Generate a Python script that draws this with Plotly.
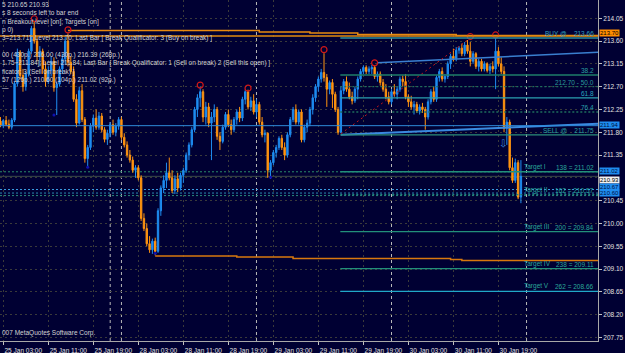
import plotly.graph_objects as go

# ---------------- data ----------------
bar_index = list(range(-1, 185))
opens = [212.02,211.94,212.03,211.96,211.90,212.04,212.76,213.38,212.92,212.70,212.95,213.40,213.85,213.60,213.30,213.40,213.05,212.80,213.02,213.20,212.68,212.75,213.05,213.25,213.60,213.18,213.00,212.45,211.98,212.62,212.05,211.28,211.50,211.92,212.08,211.90,212.12,211.85,211.66,211.78,211.95,211.80,211.92,212.05,211.70,211.55,211.35,211.25,211.05,211.10,210.90,210.10,209.90,209.60,209.48,209.65,209.45,210.25,210.70,210.85,211.00,210.90,210.65,210.88,210.70,210.95,211.05,211.35,211.55,211.85,212.25,212.48,212.60,212.10,212.30,211.98,212.10,212.25,211.72,211.62,211.90,212.15,211.95,211.85,212.05,212.20,212.08,212.45,212.60,212.30,212.42,212.20,212.35,212.00,211.75,211.78,211.05,211.20,211.40,211.50,211.68,211.50,211.35,211.75,212.05,212.25,212.00,212.20,211.65,211.90,211.98,212.25,212.48,212.70,212.85,212.98,212.88,212.65,212.78,212.55,212.25,211.80,212.62,212.80,212.65,212.50,212.42,212.65,212.85,213.00,213.08,213.00,213.05,213.08,212.90,212.95,212.78,212.65,212.50,212.40,212.60,212.55,212.65,212.85,212.80,212.50,212.40,212.30,212.35,212.22,212.30,212.25,212.10,212.40,212.60,212.45,212.88,213.00,212.85,212.90,213.15,213.30,213.25,213.42,213.46,213.35,213.52,213.40,213.20,213.35,213.10,213.20,213.05,213.15,213.02,213.10,213.05,213.40,213.15,213.00,211.88,212.00,211.10,210.85,211.20,210.52]
highs = [212.10,212.06,212.12,212.05,212.08,212.80,213.45,213.42,213.05,213.00,213.45,213.90,214.00,213.70,213.50,213.45,213.20,213.10,213.30,213.28,212.80,213.10,213.35,213.70,213.75,213.30,213.10,212.55,212.70,212.75,212.10,211.55,211.98,212.15,212.25,212.20,212.18,211.90,211.85,212.00,212.05,211.98,212.10,212.10,211.78,211.62,211.45,211.32,211.15,211.15,210.95,210.20,210.00,209.75,209.70,209.72,210.30,210.75,210.95,211.20,211.30,211.05,210.95,211.00,211.00,211.10,211.40,211.60,211.90,212.30,212.55,212.70,212.65,212.40,212.38,212.20,212.35,212.30,211.80,211.95,212.20,212.25,212.05,212.10,212.25,212.30,212.50,212.64,212.64,212.50,212.55,212.45,212.40,212.10,211.85,211.80,211.25,211.45,211.55,211.72,211.75,211.60,211.80,212.10,212.30,212.35,212.25,212.25,211.95,212.05,212.30,212.55,212.75,212.90,213.05,213.36,212.95,212.82,212.85,212.60,212.30,212.70,212.85,212.90,212.78,212.60,212.70,212.90,213.05,213.12,213.12,213.10,213.13,213.12,213.00,213.00,212.85,212.75,212.60,212.65,212.75,212.70,212.90,212.92,212.95,212.55,212.52,212.42,212.40,212.35,212.38,212.30,212.45,212.65,212.70,212.92,213.05,213.08,212.95,213.20,213.35,213.45,213.48,213.50,213.55,213.58,213.62,213.58,213.40,213.38,213.25,213.25,213.20,213.18,213.15,213.20,213.66,213.48,213.28,213.10,212.10,212.05,211.30,211.28,211.25,211.25]
lows = [211.90,211.88,211.92,211.86,211.85,212.00,212.70,212.85,212.60,212.62,212.90,213.35,213.55,213.20,213.10,212.95,212.70,212.75,212.90,212.60,212.14,212.70,212.95,213.15,213.10,212.95,212.40,211.90,211.95,212.00,211.20,211.12,211.45,211.80,211.85,211.85,211.80,211.60,211.55,211.70,211.75,211.72,211.85,211.65,211.50,211.30,211.20,211.00,210.90,210.85,210.05,209.85,209.55,209.42,209.40,209.37,209.42,210.15,210.60,210.70,210.85,210.60,210.58,210.62,210.65,210.80,211.00,211.25,211.50,211.80,212.10,212.30,212.00,211.95,211.90,211.25,212.00,211.65,211.45,211.58,211.85,211.90,211.75,211.80,211.95,212.00,212.02,212.35,212.25,212.22,212.15,212.10,211.95,211.70,211.60,210.90,210.88,211.15,211.30,211.45,211.45,211.25,211.30,211.70,212.00,211.95,211.95,211.60,211.60,211.80,211.92,212.15,212.40,212.60,212.78,212.80,212.30,212.55,212.28,212.20,211.75,211.78,212.55,212.60,212.45,212.35,212.38,212.45,212.80,212.95,212.95,212.95,212.95,212.85,212.80,212.72,212.60,212.45,212.35,212.35,212.50,212.45,212.60,212.70,212.45,212.30,212.25,212.15,212.18,212.15,212.18,211.85,212.05,212.35,212.40,212.40,212.80,212.80,212.78,212.85,213.05,213.20,213.20,213.35,213.30,213.30,213.35,213.10,213.15,213.05,213.00,213.00,213.00,212.98,212.95,212.98,212.65,213.10,212.95,211.80,211.55,211.05,210.80,210.80,210.48,210.40]
closes = [211.94,212.03,211.96,211.90,212.04,212.76,213.38,212.92,212.70,212.95,213.40,213.85,213.60,213.30,213.40,213.05,212.80,213.02,213.20,212.68,212.75,213.05,213.25,213.60,213.18,213.00,212.45,211.98,212.62,212.05,211.28,211.50,211.92,212.08,211.90,212.12,211.85,211.66,211.78,211.95,211.80,211.92,212.05,211.70,211.55,211.35,211.25,211.05,211.10,210.90,210.10,209.90,209.60,209.48,209.65,209.45,210.25,210.70,210.85,211.00,210.90,210.65,210.88,210.70,210.95,211.05,211.35,211.55,211.85,212.25,212.48,212.60,212.10,212.30,211.98,212.10,212.25,211.72,211.62,211.90,212.15,211.95,211.85,212.05,212.20,212.08,212.45,212.60,212.30,212.42,212.20,212.35,212.00,211.75,211.78,211.05,211.20,211.40,211.50,211.68,211.50,211.35,211.75,212.05,212.25,212.00,212.20,211.65,211.90,211.98,212.25,212.48,212.70,212.85,212.98,212.88,212.65,212.78,212.55,212.25,211.80,212.62,212.80,212.65,212.50,212.42,212.65,212.85,213.00,213.08,213.00,213.05,213.08,212.90,212.95,212.78,212.65,212.50,212.40,212.60,212.55,212.65,212.85,212.80,212.50,212.40,212.30,212.35,212.22,212.30,212.25,212.10,212.40,212.60,212.45,212.88,213.00,212.85,212.90,213.15,213.30,213.25,213.42,213.46,213.35,213.52,213.40,213.20,213.35,213.10,213.20,213.05,213.15,213.02,213.10,213.05,213.40,213.15,213.00,211.88,212.00,211.10,210.85,211.20,210.52,210.93]

tick_bars = [0, 16, 32, 48, 64, 80, 96, 112, 128, 144, 160, 176]
tick_labels = ["25 Jan 03:00", "25 Jan 11:00", "25 Jan 19:00", "28 Jan 03:00", "28 Jan 11:00",
               "28 Jan 19:00", "29 Jan 03:00", "29 Jan 11:00", "29 Jan 19:00", "30 Jan 03:00",
               "30 Jan 11:00", "30 Jan 19:00"]
price_ticks = [207.75, 208.20, 208.65, 209.10, 209.55, 210.00, 210.45, 210.90, 211.35, 211.80,
               212.25, 212.70, 213.15, 213.60, 214.05]
price_tick_text = ["207.75", "208.20", "208.65", "209.10", "209.55", "210.00", "210.45", "",
                   "211.35", "211.80", "212.25", "212.70", "213.15", "213.60", "214.05"]
separator_bars = [38, 42, 90, 138, 186]

frac_up_bar = [11, 23, 70, 87, 114, 132, 166, 175]
frac_up_price = [214.04, 213.82, 212.73, 212.67, 213.43, 213.17, 213.69, 213.72]
frac_dn_bar = [18, 30, 54, 95]
frac_dn_price = [212.14, 211.11, 209.41, 210.91]

upper_step_bar = [23, 91, 109, 126, 161, 212]
upper_step_price = [213.81, 213.78, 213.76, 213.73, 213.71, 213.71]
lower_step_bar = [54, 83, 103, 159, 163, 212]
lower_step_price = [209.36, 209.34, 209.31, 209.29, 209.27, 209.27]

chan_up_bar = [133, 212]
chan_up_price = [213.17, 213.38]
chan_dn_bar = [120, 212]
chan_dn_price = [211.75, 211.97]
diag_bar = [120, 166]
diag_price = [211.77, 213.66]

level_213_70 = 213.70
level_211_93 = 211.93
fib_names = ["BUY @    213.66", "38.2", "212.70 - 50.0", "61.8", "76.4", "SELL @    211.75"]
fib_prices = [213.66, 212.93, 212.70, 212.48, 212.20, 211.75]
target_names = ["Target I", "Target II", "Target III", "Target IV", "Target V"]
target_values = ["138 = 211.02", "162 = 210.57", "200 = 209.84", "238 = 209.11", "262 = 208.66"]
target_prices = [211.02, 210.57, 209.84, 209.11, 208.66]
dotted_levels = [211.02, 210.67, 210.60, 210.55]
bid_price = 210.93
arrow_bar, arrow_price = 177.7, 211.58

comment_lines = [
    "5 210.65 210.93",
    "s 8 seconds left to bar end",
    "n Breakout level [on]; Targets [on]",
    "p 0)",
    "3=213.71]; Level 213.70; Last Bar [ Break Qualificator: 3 (Buy on break) ]",
    "00 (430p.) 216.00 (430p.) 216.39 (268p.)",
    "1.75\u00f7211.84]; Level 211.84; Last Bar [ Break Qualificator: 1 (Sell on break) 2 (Sell this open) ]",
    "ficator: 3 (Sell on break) ]",
    "57 (126p.) 210.60 (104p.) 211.02 (92p.)",
    "\u2014",
]
comment_py = [5, 13, 22, 30, 38, 55, 63, 72, 80, 87]

# ---------------- styling ----------------
BG = "#000033"
BLUE = "#1E8CF0"
ORANGE = "#FF9410"
FONT = "Liberation Sans"
X0, X1 = -1.17, 211.4
Y0, Y1 = 207.68, 214.41
PLOT_H = 341.0

fig = go.Figure()

shapes = []
for p, c in zip(dotted_levels, ["#2A8A6A", "#3A9AE0", "#2A8AB0", "#2A8A7A"]):
    shapes.append(dict(type="line", xref="x", yref="y", x0=X0, x1=X1, y0=p, y1=p,
                       line=dict(color=c, width=1, dash="2px,2px"), layer="below"))
shapes.append(dict(type="line", xref="x", yref="y", x0=X0, x1=X1, y0=bid_price, y1=bid_price,
                   line=dict(color="#3A4A4A", width=1), layer="below"))
for b in separator_bars:
    shapes.append(dict(type="line", xref="x", yref="paper", x0=b, x1=b, y0=0, y1=1,
                       line=dict(color="#B8B8B8", width=1, dash="3px,3px"), layer="below"))
fib_colors = ["#2E8E9E", "#1E7E6A", "#1E6E5E", "#2AA0B0", "#1E6E5E", "#2A8E7A"]
fib_dash = ["solid", "solid", "2px,2px", "solid", "2px,2px", "solid"]
for p, c, d in zip(fib_prices, fib_colors, fib_dash):
    shapes.append(dict(type="line", xref="x", yref="y", x0=119.8, x1=X1, y0=p, y1=p,
                       line=dict(color=c, width=1.3, dash=d)))
tcolors = ["#22907A", "#22807A", "#22907A", "#22907A", "#20A8C8"]
tdash = ["solid", "2px,2px", "solid", "solid", "solid"]
for p, c, d in zip(target_prices, tcolors, tdash):
    shapes.append(dict(type="line", xref="x", yref="y", x0=119.8, x1=X1, y0=p, y1=p,
                       line=dict(color=c, width=1.3, dash=d)))
shapes.append(dict(type="line", xref="x", yref="y", x0=X0, x1=X1, y0=level_211_93, y1=level_211_93,
                   line=dict(color="#2E8AD8", width=1)))
shapes.append(dict(type="line", xref="x", yref="y", x0=X0, x1=X1, y0=level_213_70, y1=level_213_70,
                   line=dict(color="#E08A10", width=1.5)))

fig.add_trace(go.Candlestick(
    x=bar_index, open=opens, high=highs, low=lows, close=closes,
    increasing=dict(line=dict(color=BLUE, width=1), fillcolor=BLUE),
    decreasing=dict(line=dict(color=ORANGE, width=1), fillcolor=ORANGE),
    showlegend=False, hoverinfo="skip"))

fig.add_trace(go.Scatter(x=upper_step_bar, y=upper_step_price, mode="lines",
                         line=dict(color="#E88A10", width=1.5, shape="hv"), showlegend=False, hoverinfo="skip"))
fig.add_trace(go.Scatter(x=lower_step_bar, y=lower_step_price, mode="lines",
                         line=dict(color="#D8780E", width=1.5, shape="hv"), showlegend=False, hoverinfo="skip"))
fig.add_trace(go.Scatter(x=chan_up_bar, y=chan_up_price, mode="lines",
                         line=dict(color="#3A7FD0", width=1.5), showlegend=False, hoverinfo="skip"))
fig.add_trace(go.Scatter(x=chan_dn_bar, y=chan_dn_price, mode="lines",
                         line=dict(color="#3A8AE0", width=2), showlegend=False, hoverinfo="skip"))
fig.add_trace(go.Scatter(x=diag_bar, y=diag_price, mode="lines",
                         line=dict(color="#C01818", width=1, dash="2px,3px"), showlegend=False, hoverinfo="skip"))
fig.add_trace(go.Scatter(x=frac_up_bar, y=frac_up_price, mode="markers",
                         marker=dict(symbol="circle-open", size=6, color="#D01818", line=dict(width=1.2)),
                         showlegend=False, hoverinfo="skip"))
fig.add_trace(go.Scatter(x=frac_dn_bar, y=frac_dn_price, mode="markers",
                         marker=dict(symbol="circle", size=3, color="#1010B0"),
                         showlegend=False, hoverinfo="skip"))

ann = []
tf = dict(family=FONT, size=6.5, color="#D4D4D4")
for t, py in zip(comment_lines, comment_py):
    ann.append(dict(text=t, xref="paper", yref="paper", x=0, y=1 - py / PLOT_H,
                    xanchor="left", yanchor="middle", showarrow=False, font=tf))
ann.append(dict(text="007 MetaQuotes Software Corp.", xref="paper", yref="paper", x=0,
                y=1 - 333 / PLOT_H, xanchor="left", yanchor="middle", showarrow=False, font=tf))

lab_colors = ["#2EA0C0", "#2AA0A0", "#2A9A9A", "#2AA8C0", "#2AA0B0", "#2AA0A0"]
for name, p, c in zip(fib_names, fib_prices, lab_colors):
    ann.append(dict(text=name, xref="paper", yref="y", x=1, y=p, xanchor="right", yanchor="bottom",
                    xshift=-2, yshift=-1, showarrow=False, font=dict(family=FONT, size=6.5, color=c)))
for name, val, p in zip(target_names, target_values, target_prices):
    ann.append(dict(text=name, xref="paper", yref="y", x=522 / 598, y=p, xanchor="left", yanchor="bottom",
                    yshift=-1, showarrow=False, font=dict(family=FONT, size=6.5, color="#2AA89A")))
    ann.append(dict(text=val, xref="paper", yref="y", x=1, y=p, xanchor="right", yanchor="bottom",
                    xshift=-2, yshift=-1, showarrow=False, font=dict(family=FONT, size=6.5, color="#2AA89A")))
ann.append(dict(text="\u21e9", xref="x", yref="y", x=arrow_bar, y=arrow_price, showarrow=False,
                font=dict(family="DejaVu Sans", size=10, color="#3A8AE0")))

# right axis price boxes (price, text, bg, fg, vertical pixel nudge)
boxes = [(213.70, "213.70", "#FF8C00", "#000000", 3),
         (211.93, "211.94", "#1E8CF0", "#001040", 1),
         (210.93, "210.93", "#F0F0F0", "#000000", -4),
         (211.02, "211.02", "#1E8CF0", "#001040", 1),
         (210.67, "210.67", "#1E8CF0", "#001040", 3),
         (210.60, "210.60", "#1E8CF0", "#001040", 0)]
for p, t, bg, fc, ys in boxes:
    ann.append(dict(text=t, xref="paper", yref="y", x=1, y=p, xanchor="left", yanchor="middle",
                    xshift=1, yshift=ys, showarrow=False, bgcolor=bg, borderpad=0,
                    font=dict(family=FONT, size=6, color=fc)))

fig.update_layout(
    width=625, height=353,
    margin=dict(l=0, r=27, t=0, b=12),
    paper_bgcolor=BG, plot_bgcolor=BG,
    shapes=shapes, annotations=ann,
    showlegend=False,
    xaxis=dict(range=[X0, X1], tickvals=tick_bars, ticktext=tick_labels,
               showgrid=True, gridcolor="#3A3A3A", griddash="2px,3px", gridwidth=1,
               ticks="outside", ticklen=3, tickcolor="#C0C0C0",
               showline=True, linecolor="#A8A8A8", linewidth=1, zeroline=False,
               rangeslider=dict(visible=False), ticklabelshift=20, ticklabelstandoff=0,
               tickfont=dict(family=FONT, size=6.5, color="#E0E0E0"), fixedrange=True),
    yaxis=dict(range=[Y0, Y1], side="right", tickvals=price_ticks, ticktext=price_tick_text,
               showgrid=True, gridcolor="#3A3A3A", griddash="2px,3px", gridwidth=1,
               ticks="outside", ticklen=3, tickcolor="#C0C0C0",
               showline=True, linecolor="#A8A8A8", linewidth=1, zeroline=False,
               tickfont=dict(family=FONT, size=6.5, color="#E0E0E0"), fixedrange=True),
)

fig.write_html("out.html")
